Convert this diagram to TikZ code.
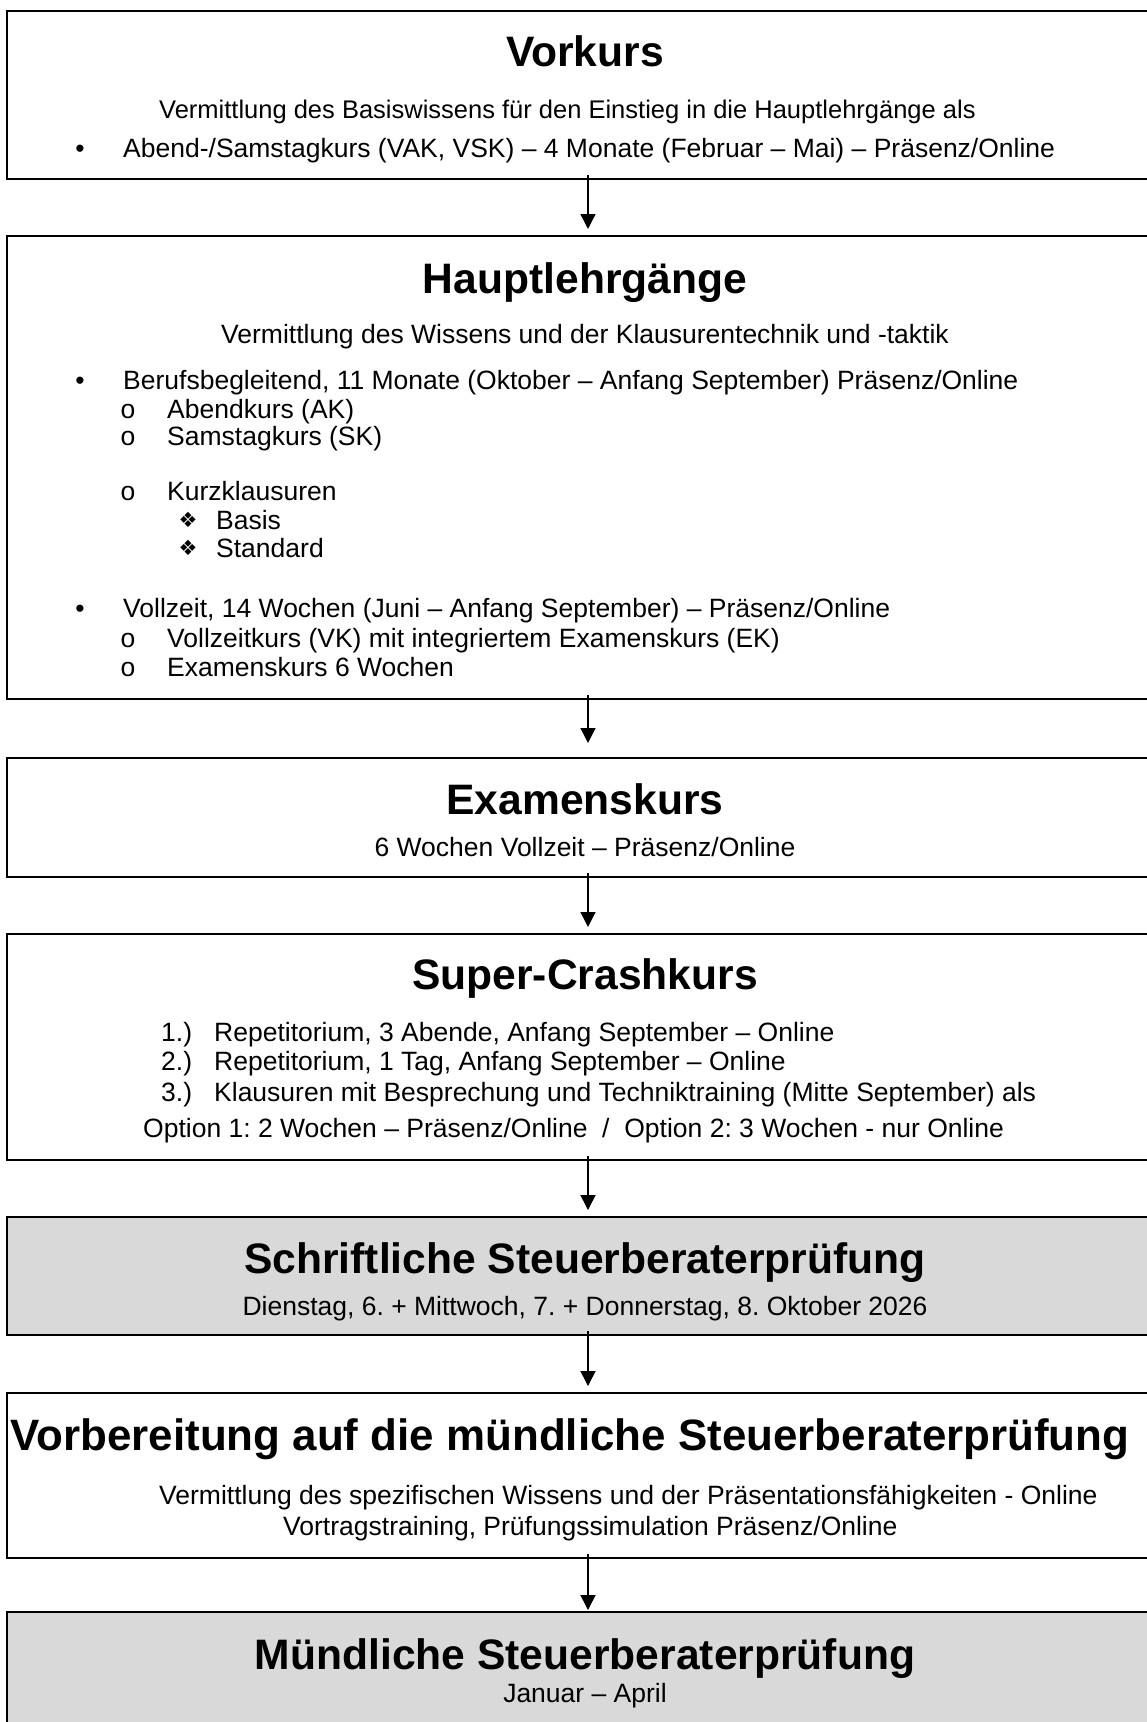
\documentclass[tikz,border=0pt]{standalone}
\usepackage{fontspec}
\setmainfont{Liberation Sans}
\newfontfamily\symfont{DejaVu Sans}
\usepackage{tikz}
\usetikzlibrary{arrows.meta,positioning}
\definecolor{examgray}{HTML}{D9D9D9}
\frenchspacing

\begin{document}
\begin{tikzpicture}[
    x=1pt, y=-1pt,
    stage/.style={rectangle, draw, line width=2pt, inner sep=0pt, minimum width=1162pt},
    exam/.style={stage, fill=examgray},
    title/.style={anchor=base, inner sep=0pt, font=\fontsize{42.6}{50}\selectfont\bfseries},
    txt/.style={anchor=base west, inner sep=0pt, font=\fontsize{26.5}{32}\selectfont},
    ctxt/.style={txt, anchor=base},
    diam/.style={ctxt, font=\fontsize{21}{24}\symfont},
    arrow/.style={-{Triangle[length=15pt,width=15pt]}, line width=1.5pt, shorten <=-5pt, shorten >=6pt},
]
    \useasboundingbox (0,0) rectangle (1147,1722);

    % Boxes
    \node[stage, minimum height=168pt] (vorkurs) at (588,95) {};
    \node[stage, minimum height=463pt] (haupt) at (588,467.5) {};
    \node[stage, minimum height=119pt] (examens) at (588,817.5) {};
    \node[stage, minimum height=226pt] (crash) at (588,1047) {};
    \node[exam, minimum height=118pt] (schrift) at (588,1276) {};
    \node[stage, minimum height=165pt] (vorb) at (588,1475.5) {};
    \node[exam, minimum height=128pt] (muendl) at (588,1676) {};

    % Arrows
    \draw[arrow] (vorkurs) -- (haupt);
    \draw[arrow, shorten >=14pt] (haupt) -- (examens);
    \draw[arrow] (examens) -- (crash);
    \draw[arrow] (crash) -- (schrift);
    \draw[arrow] (schrift) -- (vorb);
    \draw[arrow, shorten >=1pt] (vorb) -- (muendl);

    % Vorkurs
    \node[title] (vk-title) at (585,66) {Vorkurs};
    \node[txt, font=\fontsize{25.5}{30}\selectfont] (vk-intro) at (159,118) {Vermittlung des Basiswissens für den Einstieg in die Hauptlehrgänge als};
    \node[ctxt] (vk-b1) at (80,157) {•};
    \node[txt] (vk-t1) at (123,157) {Abend-/Samstagkurs (VAK, VSK) – 4 Monate (Februar – Mai) – Präsenz/Online};

    % Hauptlehrgaenge
    \node[title] (hl-title) at (585,293) {Hauptlehrgänge};
    \node[ctxt] (hl-intro) at (585,343) {Vermittlung des Wissens und der Klausurentechnik und -taktik};
    \node[ctxt] (hl-b1) at (80,389) {•};
    \node[txt] (hl-t1) at (123,389) {Berufsbegleitend, 11 Monate (Oktober – Anfang September) Präsenz/Online};
    \node[ctxt] (hl-o1) at (128,418) {o};
    \node[txt] (hl-t2) at (167,418) {Abendkurs (AK)};
    \node[ctxt] (hl-o2) at (128,445) {o};
    \node[txt] (hl-t3) at (167,445) {Samstagkurs (SK)};
    \node[ctxt] (hl-o3) at (128,500) {o};
    \node[txt] (hl-t4) at (167,500) {Kurzklausuren};
    \node[diam] (hl-d1) at (188,527) {❖};
    \node[txt] (hl-t5) at (216,529) {Basis};
    \node[diam] (hl-d2) at (188,555) {❖};
    \node[txt] (hl-t6) at (216,557) {Standard};
    \node[ctxt] (hl-b2) at (80,617) {•};
    \node[txt] (hl-t7) at (123,617) {Vollzeit, 14 Wochen (Juni – Anfang September) – Präsenz/Online};
    \node[ctxt] (hl-o4) at (128,647) {o};
    \node[txt] (hl-t8) at (167,647) {Vollzeitkurs (VK) mit integriertem Examenskurs (EK)};
    \node[ctxt] (hl-o5) at (128,676) {o};
    \node[txt] (hl-t9) at (167,676) {Examenskurs 6 Wochen};

    % Examenskurs
    \node[title] (ek-title) at (585,814) {Examenskurs};
    \node[ctxt] (ek-sub) at (585,856) {6 Wochen Vollzeit – Präsenz/Online};

    % Super-Crashkurs
    \node[title] (sc-title) at (585,989) {Super-Crashkurs};
    \node[txt] (sc-n1) at (161,1041) {1.)};
    \node[txt] (sc-t1) at (214,1041) {Repetitorium, 3 Abende, Anfang September – Online};
    \node[txt] (sc-n2) at (161,1070) {2.)};
    \node[txt] (sc-t2) at (214,1070) {Repetitorium, 1 Tag, Anfang September – Online};
    \node[txt] (sc-n3) at (161,1101) {3.)};
    \node[txt] (sc-t3) at (214,1101) {Klausuren mit Besprechung und Techniktraining (Mitte September) als};
    \node[txt] (sc-opt) at (143,1137) {Option 1: 2 Wochen – Präsenz/Online\ \ /\ \ Option 2: 3 Wochen - nur Online};

    % Schriftliche Pruefung
    \node[title] (sp-title) at (585,1273) {Schriftliche Steuerberaterprüfung};
    \node[ctxt] (sp-sub) at (585,1315) {Dienstag, 6. + Mittwoch, 7. + Donnerstag, 8. Oktober 2026};

    % Vorbereitung muendliche Pruefung
    \node[title, font=\fontsize{43.9}{52}\selectfont\bfseries] (vm-title) at (570,1450) {Vorbereitung auf die mündliche Steuerberaterprüfung};
    \node[txt] (vm-t1) at (159,1504) {Vermittlung des spezifischen Wissens und der Präsentationsfähigkeiten - Online};
    \node[txt] (vm-t2) at (283,1535) {Vortragstraining, Prüfungssimulation Präsenz/Online};

    % Muendliche Pruefung
    \node[title] (mp-title) at (585,1669) {Mündliche Steuerberaterprüfung};
    \node[ctxt] (mp-sub) at (585,1702) {Januar – April};
\end{tikzpicture}
\end{document}
